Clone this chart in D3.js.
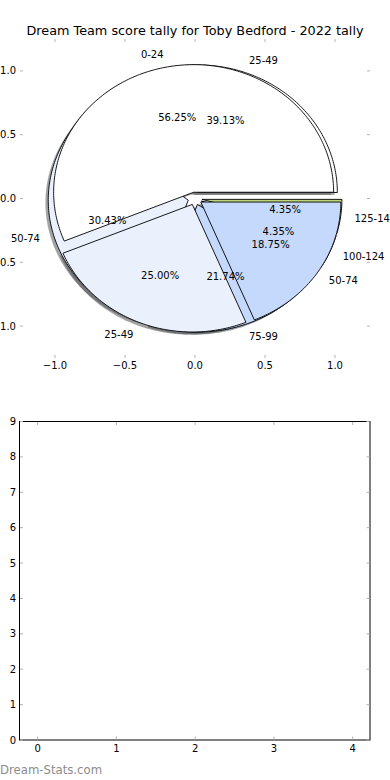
<!DOCTYPE html>
<html>
<head>
<meta charset="utf-8">
<script src="https://cdn.jsdelivr.net/npm/d3@7/dist/d3.min.js"></script>
<style>
  html, body { margin: 0; padding: 0; background: #fff; }
  svg { display: block; font-family: "DejaVu Sans", sans-serif; }
</style>
</head>
<body>
<svg id="chart" width="390" height="780"></svg>
<script>
// ---- data ----
const titleText = "Dream Team score tally for Toby Bedford - 2022 tally";
const pieALabels = ["0-24", "25-49", "50-74"];
const pieAValues = [9, 4, 3];
const pieBLabels = ["25-49", "50-74", "75-99", "100-124", "125-149"];
const pieBValues = [9, 7, 5, 1, 1];
const sliceColors = ["#ffffff", "#eaf1fd", "#c5d9fc", "#d8e4f8", "#bcd67a"];
const pieTicks = [-1.0, -0.5, 0.0, 0.5, 1.0];
const barXTicks = [0, 1, 2, 3, 4];
const barYTicks = [0, 1, 2, 3, 4, 5, 6, 7, 8, 9];
const watermark = "Dream-Stats.com";

// ---- setup ----
const svg = d3.select("#chart");
const explode = 0.05;
const shadowOff = 0.02;
const fmtTick = d => d3.format(".1f")(d).replace("-", "\u2212");

// top (pie) axes
const xs = d3.scaleLinear().domain([-1.25, 1.25]).range([20, 370]);
const ys = d3.scaleLinear().domain([-1.25, 1.25]).range([358, 39]);

const line = d3.line().x(p => xs(p[0])).y(p => ys(p[1])).curve(d3.curveLinearClosed);

function buildWedges(labels, values) {
  const total = d3.sum(values);
  let start = 0;
  return values.map((v, i) => {
    const t1 = start, t2 = start + 360 * v / total;
    start = t2;
    const tm = (t1 + t2) / 2 * Math.PI / 180;
    const cx = explode * Math.cos(tm), cy = explode * Math.sin(tm);
    const pts = [[cx, cy]];
    const n = Math.max(2, Math.ceil(t2 - t1));
    for (let k = 0; k <= n; k++) {
      const a = (t1 + (t2 - t1) * k / n) * Math.PI / 180;
      pts.push([cx + Math.cos(a), cy + Math.sin(a)]);
    }
    return {label: labels[i], pct: (100 * v / total).toFixed(2) + "%",
            color: sliceColors[i], pts, cx, cy, tm};
  });
}

const wedgesA = buildWedges(pieALabels, pieAValues);
const wedgesB = buildWedges(pieBLabels, pieBValues);
const all = wedgesB.concat(wedgesA);

function darker(c) {
  const r = d3.rgb(c);
  return d3.rgb(r.r * 0.3, r.g * 0.3, r.b * 0.3).toString();
}

// shadows (drawn beneath all wedges)
svg.append("g").selectAll("path").data(all).join("path")
  .attr("d", d => line(d.pts.map(p => [p[0] - shadowOff, p[1] - shadowOff])))
  .attr("fill", d => darker(d.color))
  .attr("fill-opacity", 0.5)
  .attr("stroke", "none");

// wedges: second series beneath, first on top
svg.append("g").selectAll("path").data(all).join("path")
  .attr("d", d => line(d.pts))
  .attr("fill", d => d.color)
  .attr("stroke", "#000")
  .attr("stroke-width", 0.9)
  .attr("stroke-linejoin", "round");

// labels
const labG = svg.append("g").attr("font-size", 10).attr("fill", "#000");
all.forEach(d => {
  const lx = d.cx + 1.1 * Math.cos(d.tm), ly = d.cy + 1.1 * Math.sin(d.tm);
  labG.append("text")
    .attr("x", xs(lx)).attr("y", ys(ly))
    .attr("text-anchor", lx > 0 ? "start" : "end")
    .attr("dominant-baseline", "central")
    .text(d.label);
  const px = d.cx + 0.6 * Math.cos(d.tm), py = d.cy + 0.6 * Math.sin(d.tm);
  labG.append("text")
    .attr("x", xs(px)).attr("y", ys(py))
    .attr("text-anchor", "middle")
    .attr("dominant-baseline", "central")
    .text(d.pct);
});

// pie axes ticks (no spines)
const tickCol = "#b4b4b4", tl = 3;
const tg = svg.append("g").attr("stroke", tickCol).attr("stroke-width", 1);
pieTicks.forEach(t => {
  tg.append("line").attr("x1", xs(t)).attr("x2", xs(t)).attr("y1", 39).attr("y2", 39 + tl);
  tg.append("line").attr("x1", xs(t)).attr("x2", xs(t)).attr("y1", 358).attr("y2", 358 - tl);
  tg.append("line").attr("y1", ys(t)).attr("y2", ys(t)).attr("x1", 20).attr("x2", 20 + tl);
  tg.append("line").attr("y1", ys(t)).attr("y2", ys(t)).attr("x1", 370).attr("x2", 370 - tl);
});
const tlab = svg.append("g").attr("font-size", 10).attr("fill", "#000");
pieTicks.forEach(t => {
  tlab.append("text").attr("x", xs(t)).attr("y", 365).attr("text-anchor", "middle")
    .attr("dominant-baseline", "central").text(fmtTick(t));
  tlab.append("text").attr("x", 16).attr("y", ys(t)).attr("text-anchor", "end")
    .attr("dominant-baseline", "central").text(fmtTick(t));
});

// title
svg.append("text").attr("x", 195).attr("y", 30).attr("text-anchor", "middle")
  .attr("dominant-baseline", "central").attr("font-size", 12.8).text(titleText);

// ---- bottom empty axes ----
const bx = d3.scaleLinear().domain([-0.23, 4.22]).range([19.5, 370]);
const by = d3.scaleLinear().domain([0, 9]).range([740, 421.5]);
const bg = svg.append("g");
bg.append("rect").attr("x", 19.5).attr("y", 421.5).attr("width", 350.5).attr("height", 318.5)
  .attr("fill", "none").attr("stroke", "#000").attr("stroke-width", 1);
const btg = bg.append("g").attr("stroke", tickCol).attr("stroke-width", 1);
barXTicks.forEach(t => {
  btg.append("line").attr("x1", bx(t)).attr("x2", bx(t)).attr("y1", 740 - 0.5).attr("y2", 740 - 0.5 - tl);
  btg.append("line").attr("x1", bx(t)).attr("x2", bx(t)).attr("y1", 421.5 + 0.5).attr("y2", 421.5 + 0.5 + tl);
  bg.append("text").attr("x", bx(t)).attr("y", 748).attr("text-anchor", "middle")
    .attr("dominant-baseline", "central").attr("font-size", 10).text(t);
});
barYTicks.forEach(t => {
  btg.append("line").attr("y1", by(t)).attr("y2", by(t)).attr("x1", 20).attr("x2", 20 + tl);
  btg.append("line").attr("y1", by(t)).attr("y2", by(t)).attr("x1", 369.5).attr("x2", 369.5 - tl);
  bg.append("text").attr("x", 16).attr("y", by(t)).attr("text-anchor", "end")
    .attr("dominant-baseline", "central").attr("font-size", 10).text(t);
});

// watermark
svg.append("text").attr("x", 0).attr("y", 770).attr("dominant-baseline", "central")
  .attr("font-size", 11.7).attr("fill", "#8c8c8c").text(watermark);
</script>
</body>
</html>
